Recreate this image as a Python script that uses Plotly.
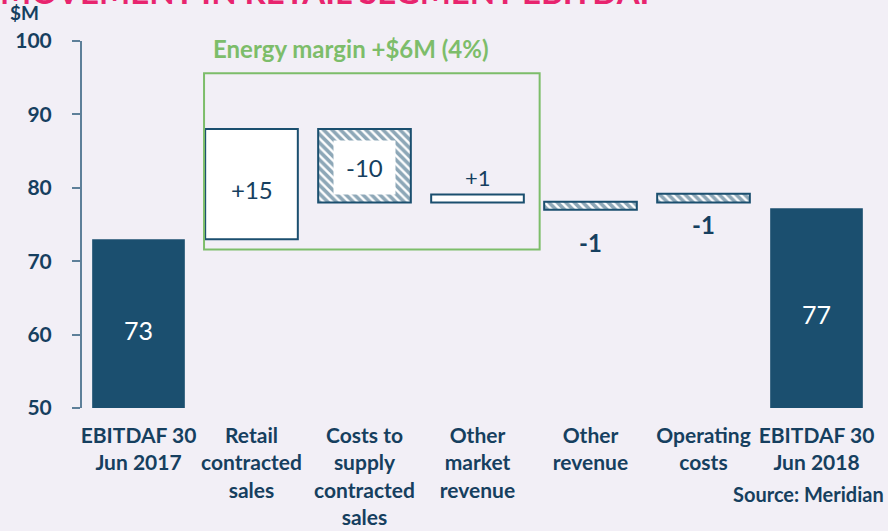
import plotly.graph_objects as go

categories = ["EBITDAF 30<br>Jun 2017", "Retail<br>contracted<br>sales",
              "Costs to<br>supply<br>contracted<br>sales", "Other<br>market<br>revenue",
              "Other<br>revenue", "Operating<br>costs", "EBITDAF 30<br>Jun 2018"]
labels = ["73", "+15", "-10", "+1", "-1", "-1", "77"]
bar_low = [50, 73, 78, 78, 77.0, 78.0, 50]
bar_high = [73, 88, 88, 79.1, 78.1, 79.2, 77.2]
kinds = ["total", "up", "down", "up", "down", "down", "total"]

NAVY = "#1b4f6f"
TEXT = "#163f5f"
GREEN = "#7dbd6a"
BG = "#f2eff6"

fig = go.Figure()
x_idx = list(range(len(categories)))

def add_group(kind, color, line_w, pattern=None):
    xs = [i for i in x_idx if kinds[i] == kind]
    fig.add_trace(go.Bar(
        x=xs,
        y=[bar_high[i] - bar_low[i] for i in xs],
        base=[bar_low[i] for i in xs],
        width=0.82,
        marker=dict(color=color, line=dict(color=NAVY, width=line_w),
                    pattern=pattern),
        hoverinfo="skip", showlegend=False))

add_group("total", NAVY, 0)
add_group("up", "white", 2)
add_group("down", "white", 2, pattern=dict(shape="\\", fgcolor=NAVY, bgcolor="white",
                                           size=6, solidity=0.6))

fnt = "Lato"
below_shift = {4: -16, 5: -6}
for i in x_idx:
    mid = (bar_low[i] + bar_high[i]) / 2
    if kinds[i] == "total":
        fig.add_annotation(x=i, y=mid, yshift=-6, text=labels[i],
                           showarrow=False, font=dict(color="white", size=25, family=fnt))
    elif i == 1:
        fig.add_annotation(x=i, y=mid, yshift=-5, text=labels[i],
                           showarrow=False, font=dict(color=TEXT, size=24, family=fnt))
    elif i == 2:
        fig.add_annotation(x=i, y=mid, yshift=-2, text=labels[i],
                           showarrow=False, bgcolor="white", borderpad=12,
                           font=dict(color=TEXT, size=24, family=fnt))
    elif labels[i].startswith("+"):
        fig.add_annotation(x=i, y=bar_high[i], text=labels[i], yanchor="bottom", yshift=1,
                           showarrow=False, font=dict(color=TEXT, size=22, family=fnt))
    else:
        fig.add_annotation(x=i, y=bar_low[i], text=labels[i], yanchor="top",
                           yshift=below_shift.get(i, -8),
                           showarrow=False, font=dict(color=TEXT, size=24, family=fnt,
                                                      weight="bold"))

# green energy margin box
fig.add_shape(type="rect", x0=0.58, x1=3.55, y0=71.6, y1=95.6, xref="x", yref="y",
              line=dict(color=GREEN, width=2), fillcolor="rgba(0,0,0,0)")
fig.add_annotation(x=1.88, y=95.6, text="Energy margin +$6M (4%)", yanchor="bottom", yshift=8,
                   showarrow=False, font=dict(color=GREEN, size=24, family=fnt, weight="bold"))

# $M label
fig.add_annotation(xref="paper", yref="paper", x=-0.094, y=1.04, xanchor="left", yanchor="bottom",
                   text="$M", showarrow=False,
                   font=dict(color=TEXT, size=19, family=fnt, weight="bold"))
# Source
fig.add_annotation(xref="paper", yref="paper", x=1.017, y=-0.234, xanchor="right", yanchor="middle",
                   text="Source: Meridian", showarrow=False,
                   font=dict(color=TEXT, size=20, family=fnt, weight="bold"))
# Title (cut off at top)
fig.add_annotation(xref="paper", yref="paper", x=-0.106, y=1.02, xanchor="left", yanchor="bottom",
                   yshift=21, text="MOVEMENT IN RETAIL SEGMENT EBITDAF", showarrow=False,
                   font=dict(color="#e8246e", size=33, family=fnt, weight="bold"))

fig.update_layout(
    width=888, height=531, paper_bgcolor=BG, plot_bgcolor=BG,
    margin=dict(l=82, r=15, t=41, b=123),
    bargap=0.18, barmode="overlay",
    xaxis=dict(tickvals=x_idx, ticktext=categories, range=[-0.5, 6.5], showline=False,
               showgrid=False, zeroline=False, ticks="", automargin=False,
               ticklabelstandoff=13,
               tickfont=dict(color=TEXT, size=21, family=fnt, weight="bold")),
    yaxis=dict(range=[50, 100], tickvals=[50, 60, 70, 80, 90, 100], showgrid=False,
               zeroline=False, showline=True, linecolor="#5d7f99", linewidth=2,
               ticks="outside", ticklen=8, tickcolor="#5d7f99", tickwidth=2,
               ticklabelstandoff=16, automargin=False,
               tickfont=dict(color=TEXT, size=21, family=fnt, weight="bold")),
)

fig.write_html("out.html", config={"displayModeBar": False},
               post_script="document.body.style.margin='0';")
